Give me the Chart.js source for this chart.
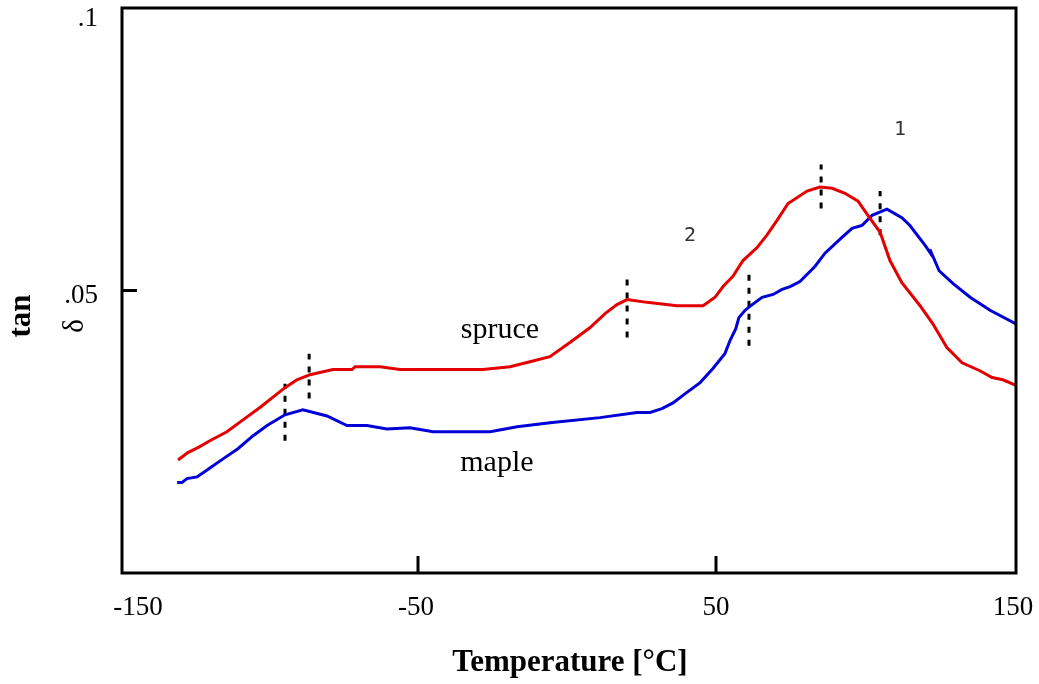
<!DOCTYPE html>
<html>
<head>
<meta charset="utf-8">
<script src="https://cdn.jsdelivr.net/npm/chart.js@4/dist/chart.umd.min.js"></script>
<style>
    html, body { margin: 0; padding: 0; background: #fff; }
    canvas { display: block; }
</style>
</head>
<body>
<canvas id="tanChart" width="1039" height="684"></canvas>
<script>
// tan delta vs temperature, spruce and maple
const spruceTemp = [-131.2, -127.9, -124.5, -120.5, -114.8, -109.4, -103.7, -98.7, -95.3, -91.3, -86.9, -79.2, -72.8, -71.8, -63.4, -56.7, -28.9, -19.8, -13.1, -6.4, 0.3, 7.0, 12.1, 16.1, 19.5, 26.2, 36.2, 45.0, 49.0, 51.7, 55.0, 58.4, 63.1, 66.4, 69.8, 73.5, 79.9, 84.2, 88.3, 92.6, 97.0, 100.3, 104.4, 107.7, 111.7, 117.8, 122.1, 126.8, 131.9, 137.9, 142.0, 145.6, 150.0];
const spruceTan = [0.0200, 0.0213, 0.0222, 0.0234, 0.0250, 0.0271, 0.0293, 0.0314, 0.0328, 0.0342, 0.0351, 0.0360, 0.0360, 0.0365, 0.0365, 0.0360, 0.0360, 0.0365, 0.0374, 0.0383, 0.0408, 0.0434, 0.0459, 0.0475, 0.0484, 0.0479, 0.0473, 0.0473, 0.0488, 0.0507, 0.0525, 0.0553, 0.0576, 0.0598, 0.0624, 0.0654, 0.0676, 0.0683, 0.0681, 0.0672, 0.0658, 0.0633, 0.0603, 0.0553, 0.0514, 0.0473, 0.0441, 0.0399, 0.0372, 0.0358, 0.0346, 0.0342, 0.0332];

const mapleTemp = [-131.5, -129.9, -128.2, -124.8, -120.5, -116.1, -111.1, -106.0, -101.3, -95.3, -89.3, -81.2, -74.5, -67.8, -61.1, -53.4, -45.6, -26.5, -17.4, -6.4, 10.4, 22.8, 27.2, 31.2, 34.9, 38.9, 44.0, 48.3, 52.3, 54.0, 56.0, 57.0, 59.1, 60.7, 64.8, 68.5, 71.5, 74.2, 77.5, 82.6, 85.9, 91.6, 95.0, 98.3, 101.7, 106.7, 111.7, 114.4, 119.5, 122.1, 121.1, 124.2, 128.9, 134.6, 141.3, 150.0];
const mapleTan = [0.0160, 0.0160, 0.0167, 0.0170, 0.0186, 0.0202, 0.0220, 0.0243, 0.0261, 0.0280, 0.0289, 0.0278, 0.0261, 0.0261, 0.0255, 0.0257, 0.0250, 0.0250, 0.0259, 0.0266, 0.0275, 0.0284, 0.0284, 0.0291, 0.0301, 0.0317, 0.0337, 0.0362, 0.0388, 0.0411, 0.0433, 0.0452, 0.0465, 0.0472, 0.0488, 0.0493, 0.0502, 0.0507, 0.0516, 0.0543, 0.0566, 0.0594, 0.0610, 0.0615, 0.0633, 0.0644, 0.0629, 0.0615, 0.0580, 0.0560, 0.0573, 0.0535, 0.0512, 0.0488, 0.0465, 0.0441];

// dashed peak markers
const markerTemp = [-95.3, -87.2, 19.5, 60.4, 84.6, 104.4];
const markerLow = [0.0234, 0.0309, 0.0417, 0.0402, 0.0645, 0.0598];
const markerHigh = [0.0335, 0.0388, 0.0521, 0.0530, 0.0723, 0.0676];

// axis ticks
const xTickValues = [-150, -50, 50, 150];
const xTickLabels = ['-150', '-50', '50', '150'];
const yTickValues = [0.1, 0.05];
const yTickLabels = ['.1', '.05'];

// text in the plot
const notes = [
    { text: 'spruce', x: -23.2, y: 0.0429, kind: 'serif' },
    { text: 'maple', x: -24.2, y: 0.0195, kind: 'serif' },
    { text: '1', x: 111.1, y: 0.0785, kind: 'mono' },
    { text: '2', x: 40.6, y: 0.0596, kind: 'mono' }
];

function toPoints(xs, ys) {
    return xs.map((x, i) => ({ x: x, y: ys[i] }));
}

const datasets = [
    {
        label: 'spruce',
        data: toPoints(spruceTemp, spruceTan),
        borderColor: 'rgb(228, 0, 0)',
        borderWidth: 3,
        showLine: true,
        pointRadius: 0,
        tension: 0
    },
    {
        label: 'maple',
        data: toPoints(mapleTemp, mapleTan),
        borderColor: 'rgb(0, 0, 215)',
        borderWidth: 3,
        showLine: true,
        pointRadius: 0,
        tension: 0
    }
];

markerTemp.forEach((t, i) => {
    datasets.push({
        label: 'marker' + i,
        data: [{ x: t, y: markerLow[i] }, { x: t, y: markerHigh[i] }],
        borderColor: '#000',
        borderWidth: 3,
        borderDash: [6, 7],
        showLine: true,
        pointRadius: 0
    });
});

// frame, ticks and all the text
const decorations = {
    id: 'decorations',
    afterDatasetsDraw(chart) {
        const ctx = chart.ctx;
        const area = chart.chartArea;
        const xs = chart.scales.x;
        const ys = chart.scales.y;
        ctx.save();

        ctx.strokeStyle = '#000';
        ctx.lineWidth = 3;
        ctx.strokeRect(area.left, area.top, area.right - area.left, area.bottom - area.top);

        // inward ticks
        ctx.beginPath();
        [-50, 50].forEach(v => {
            const px = xs.getPixelForValue(v) - 2;
            ctx.moveTo(px, area.bottom);
            ctx.lineTo(px, area.bottom - 17);
        });
        const py05 = ys.getPixelForValue(0.05);
        ctx.moveTo(area.left, py05);
        ctx.lineTo(area.left + 15, py05);
        ctx.stroke();

        ctx.fillStyle = '#000';
        ctx.font = '27px "Liberation Serif", serif';
        ctx.textAlign = 'center';
        ctx.textBaseline = 'middle';
        const xShift = [16, -4, -2, -3];
        xTickValues.forEach((v, i) => {
            ctx.fillText(xTickLabels[i], xs.getPixelForValue(v) + xShift[i], 608);
        });
        ctx.textAlign = 'right';
        const yShift = [11, 5];
        yTickValues.forEach((v, i) => {
            ctx.fillText(yTickLabels[i], 98, ys.getPixelForValue(v) + yShift[i]);
        });

        // axis titles
        ctx.textAlign = 'center';
        ctx.font = 'bold 31px "Liberation Serif", serif';
        ctx.fillText('Temperature [°C]', 570, 663);

        ctx.save();
        ctx.translate(22, 316);
        ctx.rotate(-Math.PI / 2);
        ctx.fillText('tan', 0, 0);
        ctx.restore();

        ctx.save();
        ctx.translate(75, 326);
        ctx.rotate(-Math.PI / 2);
        ctx.font = '29px "Liberation Serif", serif';
        ctx.fillText('δ', 0, 0);
        ctx.restore();

        notes.forEach(n => {
            if (n.kind === 'serif') {
                ctx.font = '30px "Liberation Serif", serif';
                ctx.fillStyle = '#000';
            } else {
                ctx.font = '20px "DejaVu Sans Mono", monospace';
                ctx.fillStyle = '#333';
            }
            ctx.fillText(n.text, xs.getPixelForValue(n.x), ys.getPixelForValue(n.y));
        });

        ctx.restore();
    }
};

new Chart(document.getElementById('tanChart'), {
    type: 'scatter',
    data: { datasets: datasets },
    options: {
        responsive: false,
        animation: false,
        layout: {
            padding: { left: 122, right: 23, top: 8, bottom: 111 }
        },
        plugins: {
            legend: { display: false },
            tooltip: { enabled: false }
        },
        scales: {
            x: { type: 'linear', min: -150, max: 150, display: false },
            y: { type: 'linear', min: 0, max: 0.1, display: false }
        }
    },
    plugins: [decorations]
});
</script>
</body>
</html>
